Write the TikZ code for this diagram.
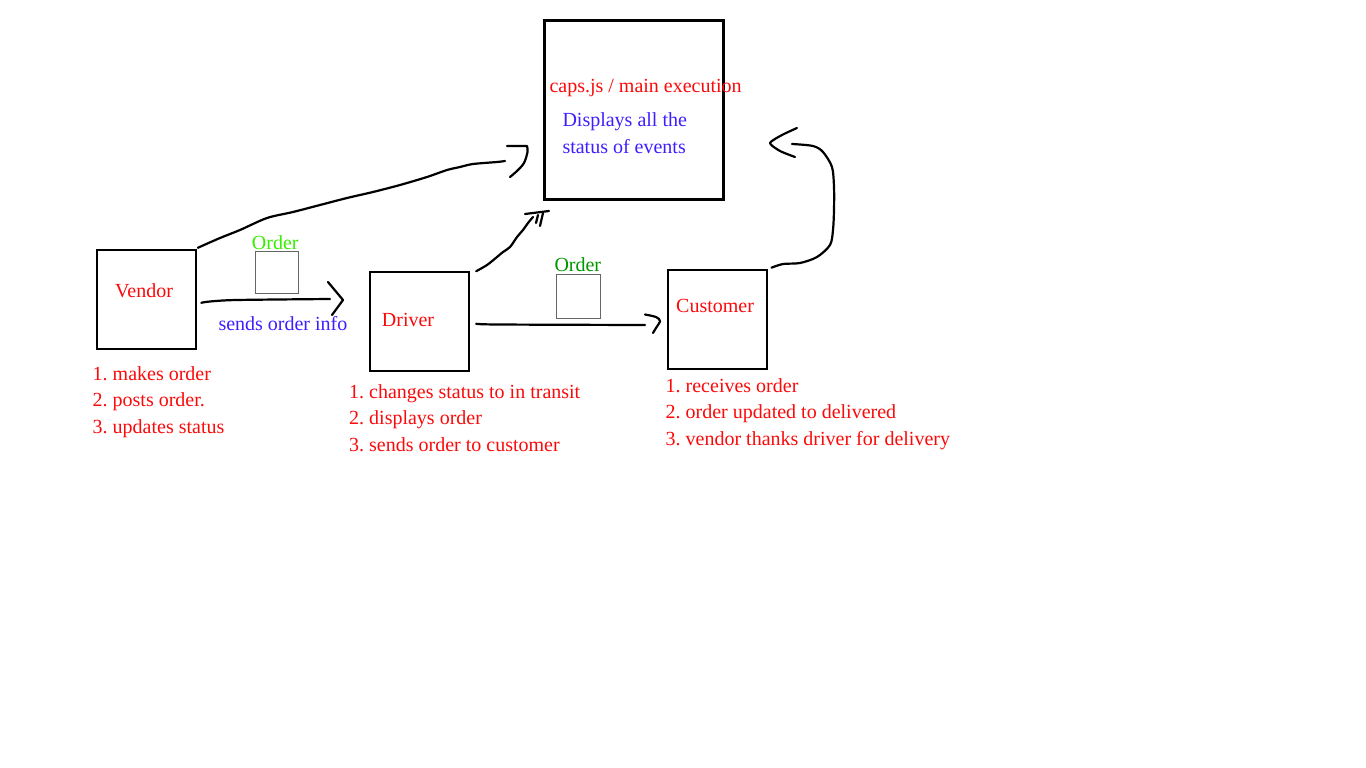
\documentclass[tikz,border=0pt]{standalone}
\usepackage{fontspec}
\setmainfont{Liberation Serif}
\usetikzlibrary{positioning}
\definecolor{notered}{RGB}{250,10,10}
\definecolor{noteblue}{RGB}{60,30,255}
\definecolor{orderlime}{RGB}{55,238,0}
\definecolor{ordergreen}{RGB}{0,150,0}
\frenchspacing

\begin{document}
\begin{tikzpicture}[x=1pt,y=-1pt,
  box/.style={draw, line width=2pt, minimum width=99pt, minimum height=99pt, inner sep=0pt},
  parcel/.style={draw=black!60, line width=1pt, inner sep=0pt},
  lbl/.style={inner sep=0pt, anchor=base west, text=notered, font=\fontsize{20}{24}\selectfont},
  pen/.style={line width=2.2pt, line cap=round, line join=round}]
\useasboundingbox (0,0) rectangle (1366,768);

% boxes
\node[box] (vendor) at (146.8,299.8) {};
\node[box] (driver) at (419.7,321.7) {};
\node[box] (customer) at (717.5,319.7) {};
\node[box, line width=3pt, minimum width=179pt, minimum height=179pt] (caps) at (634,110) {};

\node[parcel, minimum width=42.5pt, minimum height=41.6pt] (parcel1) at (277,272.5) {};
\node[parcel, minimum width=44pt, minimum height=44pt] (parcel2) at (578,296.3) {};

% box labels
\node[lbl] (vendortxt) at (115,297.7) {Vendor};
\node[lbl] (drivertxt) at (381.7,326.7) {Driver};
\node[lbl] (customertxt) at (676,312) {Customer};
\node[lbl] (capstxt) at (549.3,92.7) {caps.js / main execution};
\node[lbl, text=noteblue] (capsnote1) at (562.3,126.7) {Displays all the};
\node[lbl, text=noteblue] (capsnote2) at (562.3,153.3) {status of events};

\node[lbl, text=orderlime] (order1) at (251.7,249) {Order};
\node[lbl, text=ordergreen] (order2) at (554.3,271) {Order};
\node[lbl, text=noteblue] (sendstxt) at (218.3,330) {sends order info};

% step lists
\node[lbl] (vendor1) at (92.5,380) {1. makes order};
\node[lbl] (vendor2) at (92.5,406.5) {2. posts order.};
\node[lbl] (vendor3) at (92.5,433) {3. updates status};

\node[lbl] (driver1) at (349,398) {1. changes status to in transit};
\node[lbl] (driver2) at (349,424.5) {2. displays order};
\node[lbl] (driver3) at (349,451) {3. sends order to customer};

\node[lbl] (customer1) at (665.5,392) {1. receives order};
\node[lbl] (customer2) at (665.5,418.5) {2. order updated to delivered};
\node[lbl] (customer3) at (665.5,445) {3. vendor thanks driver for delivery};

% hand drawn connectors
\coordinate (capsin1) at (505,161);
\coordinate (capsin2) at (533,217);
\coordinate (capsin3) at (792,144);
\coordinate (driverin) at (330,299);
\coordinate (customerin) at (645,325);

\draw[pen] plot[smooth] coordinates {([shift={(0.5,-1.5)}]vendor.north east) (220,238) (240,230)
  (267,218) (293,212) (320,205) (347,198) (373,192) (400,185) (427,177) (447,170)
  (460,167) (473,164) (497,162) (capsin1)};
\draw[pen] (507,146) -- plot[smooth] coordinates {(527,146) (527.5,152) (524,163) (517,171) (510,177)};

\draw[pen] plot[smooth] coordinates {([shift={(4,3)}]vendor.east) (210,301.5) (237,300) (driverin)};
\draw[pen] (328,282) -- (343,300) -- (332,315);

\draw[pen] plot[smooth] coordinates {([xshift=6]driver.north east) (487,265) (497,257) (503,252)
  (510,247) (517,237) (523,230) (528,223) (capsin2)};
\draw[pen] (525,214) -- (549,211);
\draw[pen] (543,213) -- (540,226);
\draw[pen] (538,215) -- (536,223);

\draw[pen] plot[smooth] coordinates {([shift={(6,2)}]driver.east) (498,324.5) (customerin)};
\draw[pen] plot[smooth] coordinates {(645,314.5) (656,317) (660,321) (656,328) (653,333)};

\draw[pen] plot[smooth] coordinates {([shift={(3.5,-1.5)}]customer.north east) (783,264) (800,263)
  (817,257) (830,245) (833,230) (834,210) (834,187) (832,167) (823,152) (813,146) (capsin3)};
\draw[pen] plot[smooth, tension=0.4] coordinates {(797,128) (782,135) (770,143) (780,151) (795,157)};
\end{tikzpicture}
\end{document}
